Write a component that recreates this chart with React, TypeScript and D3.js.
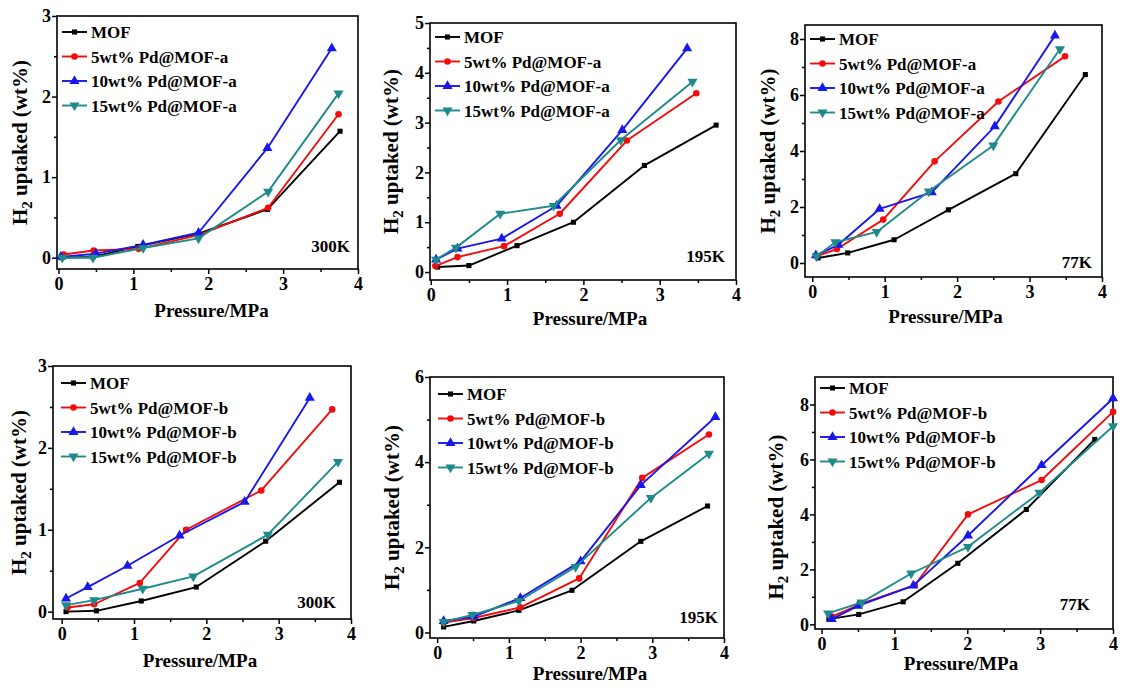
import React, { useEffect, useRef } from 'react';
import * as d3 from 'd3';

// legend names for the two sample batches
const namesA = ['MOF', '5wt% Pd@MOF-a', '10wt% Pd@MOF-a', '15wt% Pd@MOF-a'];
const namesB = ['MOF', '5wt% Pd@MOF-b', '10wt% Pd@MOF-b', '15wt% Pd@MOF-b'];

const colors = ['#000000', '#f20c0c', '#1717ee', '#1f8a8a'];
const symbols = ['square', 'circle', 'up', 'down'];

// [pressure MPa, H2 uptake wt%] for MOF, 5wt%, 10wt%, 15wt%
const batchA300K = [
  [[0.04, 0.0], [0.46, 0.01], [1.06, 0.14], [1.87, 0.3], [2.79, 0.6], [3.76, 1.57]],
  [[0.07, 0.04], [0.47, 0.09], [1.07, 0.11], [1.87, 0.28], [2.8, 0.62], [3.74, 1.78]],
  [[0.03, 0.01], [0.5, 0.05], [1.13, 0.16], [1.87, 0.31], [2.79, 1.36], [3.65, 2.6]],
  [[0.05, 0.0], [0.46, 0.0], [1.13, 0.12], [1.87, 0.24], [2.8, 0.82], [3.74, 2.04]],
];
const batchA195K = [
  [[0.09, 0.1], [0.5, 0.13], [1.13, 0.53], [1.87, 1.0], [2.8, 2.14], [3.74, 2.95]],
  [[0.06, 0.12], [0.35, 0.3], [0.96, 0.52], [1.69, 1.17], [2.57, 2.64], [3.48, 3.59]],
  [[0.07, 0.25], [0.35, 0.47], [0.93, 0.67], [1.65, 1.33], [2.51, 2.85], [3.36, 4.49]],
  [[0.07, 0.25], [0.33, 0.49], [0.91, 1.17], [1.61, 1.33], [2.49, 2.65], [3.43, 3.82]],
];
const batchA77K = [
  [[0.08, 0.18], [0.49, 0.36], [1.13, 0.83], [1.88, 1.9], [2.81, 3.19], [3.77, 6.73]],
  [[0.06, 0.24], [0.34, 0.5], [0.98, 1.55], [1.69, 3.63], [2.57, 5.77], [3.49, 7.38]],
  [[0.05, 0.27], [0.36, 0.65], [0.93, 1.93], [1.65, 2.52], [2.52, 4.88], [3.35, 8.12]],
  [[0.06, 0.24], [0.32, 0.74], [0.89, 1.11], [1.61, 2.56], [2.5, 4.2], [3.42, 7.64]],
];
const batchB300K = [
  [[0.06, 0.0], [0.48, 0.01], [1.1, 0.13], [1.86, 0.3], [2.82, 0.86], [3.84, 1.58]],
  [[0.08, 0.05], [0.45, 0.09], [1.08, 0.35], [1.72, 1.0], [2.76, 1.48], [3.74, 2.47]],
  [[0.06, 0.16], [0.36, 0.3], [0.91, 0.56], [1.63, 0.93], [2.53, 1.34], [3.43, 2.61]],
  [[0.06, 0.08], [0.45, 0.14], [1.12, 0.28], [1.82, 0.43], [2.85, 0.94], [3.82, 1.83]],
];
const batchB195K = [
  [[0.09, 0.13], [0.51, 0.27], [1.14, 0.52], [1.88, 0.99], [2.84, 2.14], [3.77, 2.97]],
  [[0.09, 0.23], [0.51, 0.34], [1.16, 0.59], [1.98, 1.27], [2.86, 3.63], [3.79, 4.65]],
  [[0.09, 0.27], [0.51, 0.37], [1.16, 0.81], [2.0, 1.67], [2.84, 3.46], [3.88, 5.06]],
  [[0.09, 0.25], [0.49, 0.41], [1.14, 0.74], [1.93, 1.54], [2.98, 3.16], [3.79, 4.2]],
];
const batchB77K = [
  [[0.1, 0.19], [0.51, 0.36], [1.12, 0.82], [1.87, 2.22], [2.81, 4.18], [3.75, 6.73]],
  [[0.14, 0.28], [0.53, 0.73], [1.28, 1.43], [2.01, 4.0], [3.02, 5.25], [4.0, 7.73]],
  [[0.14, 0.19], [0.5, 0.67], [1.26, 1.41], [2.01, 3.23], [3.02, 5.79], [4.0, 8.22]],
  [[0.09, 0.4], [0.55, 0.8], [1.23, 1.85], [2.01, 2.82], [2.99, 4.79], [4.0, 7.21]],
];

const xTicks = [0, 1, 2, 3, 4];

const panels = [
  { data: batchA300K, names: namesA, temp: '300K', frame: [57, 16, 358, 269], xDomain: [-0.02, 4], yDomain: [-0.14, 3], yStep: 1, legend: [0, 16], tempAt: [8, 17], xTitle: [4, 48], yTitle: [-30, 0] },
  { data: batchA195K, names: namesA, temp: '195K', frame: [430, 23, 736, 280], xDomain: [-0.01, 4], yDomain: [-0.16, 5], yStep: 1, legend: [0, 14], tempAt: [11, 18], xTitle: [7, 45], yTitle: [-32, 0] },
  { data: batchA77K, names: namesA, temp: '77K', frame: [805, 25, 1102, 277], xDomain: [-0.1, 4], yDomain: [-0.5, 8.5], yStep: 2, legend: [0, 14], tempAt: [10, 9], xTitle: [-8, 46], yTitle: [-30, 0] },
  { data: batchB300K, names: namesB, temp: '300K', frame: [53, 366, 351, 619], xDomain: [-0.12, 4], yDomain: [-0.09, 3], yStep: 1, legend: [3, 17], tempAt: [15, 11], xTitle: [-2, 48], yTitle: [-27, 0] },
  { data: batchB195K, names: namesB, temp: '195K', frame: [430, 377, 724, 638], xDomain: [-0.1, 4], yDomain: [-0.13, 6], yStep: 2, legend: [3, 17], tempAt: [6, 15], xTitle: [13, 42], yTitle: [-31, 0] },
  { data: batchB77K, names: namesB, temp: '77K', frame: [815, 377, 1113, 629], xDomain: [-0.09, 4], yDomain: [-0.17, 9], yStep: 2, legend: [0, 11], tempAt: [23, 19], xTitle: [-3, 41], yTitle: [-32, 14] },
];

const FONT = '"Liberation Serif", "Times New Roman", serif';

function markerPath(kind: string) {
  if (kind === 'square') return d3.symbol(d3.symbolSquare, 26)();
  if (kind === 'circle') return d3.symbol(d3.symbolCircle, 34)();
  return d3.symbol(d3.symbolTriangle, 44)();
}

function addMarker(g: any, kind: string, cx: number, cy: number, color: string) {
  g.append('path')
    .attr('d', markerPath(kind))
    .attr('fill', color)
    .attr('transform', `translate(${cx},${cy})${kind === 'down' ? ' rotate(180)' : ''}`);
}

const Panel = ({ cfg }: { cfg: any }) => {
  const ref = useRef<SVGGElement>(null);

  useEffect(() => {
    const g = d3.select(ref.current);
    g.selectAll('*').remove();
    const [left, top, right, bottom] = cfg.frame;

    const x = d3.scaleLinear().domain(cfg.xDomain).range([left, right]);
    const y = d3.scaleLinear().domain(cfg.yDomain).range([bottom, top]);

    const yMax = Math.floor(cfg.yDomain[1] / cfg.yStep) * cfg.yStep;
    const yMajor = d3.range(0, yMax + 0.001, cfg.yStep);
    const yMinor = d3.range(cfg.yStep / 2, cfg.yDomain[1], cfg.yStep);
    const xMinor = d3.range(0.5, 4, 1);

    // minor ticks first, then major with labels
    const minorX = g.append('g').attr('transform', `translate(0,${bottom})`)
      .call(d3.axisBottom(x).tickValues(xMinor).tickSize(3).tickSizeOuter(0).tickFormat(() => ''));
    const minorY = g.append('g').attr('transform', `translate(${left},0)`)
      .call(d3.axisLeft(y).tickValues(yMinor).tickSize(3).tickSizeOuter(0).tickFormat(() => ''));

    const axX = g.append('g').attr('transform', `translate(0,${bottom})`)
      .call(d3.axisBottom(x).tickValues(xTicks).tickSize(5).tickSizeOuter(0).tickPadding(3).tickFormat(d3.format('d')));
    const axY = g.append('g').attr('transform', `translate(${left},0)`)
      .call(d3.axisLeft(y).tickValues(yMajor).tickSize(5).tickSizeOuter(0).tickPadding(1).tickFormat(d3.format('d')));

    [minorX, minorY, axX, axY].forEach((a) => {
      a.select('.domain').remove();
      a.selectAll('line').attr('stroke', '#000').attr('stroke-width', 1.5);
      a.attr('font-family', FONT).attr('font-size', 18).attr('font-weight', 'bold');
      a.selectAll('text').attr('fill', '#000');
    });

    g.append('rect')
      .attr('x', left).attr('y', top)
      .attr('width', right - left).attr('height', bottom - top)
      .attr('fill', 'none').attr('stroke', '#000').attr('stroke-width', 1.6);

    const line = d3.line<number[]>().x((d) => x(d[0])).y((d) => y(d[1]));

    cfg.data.forEach((pts: number[][], i: number) => {
      g.append('path')
        .attr('d', line(pts))
        .attr('fill', 'none')
        .attr('stroke', colors[i])
        .attr('stroke-width', 1.9)
        .attr('stroke-linejoin', 'round');
      pts.forEach((p) => addMarker(g, symbols[i], x(p[0]), y(p[1]), colors[i]));
    });

    // legend
    const lx = left + 5 + cfg.legend[0];
    const ly = top + cfg.legend[1];
    cfg.names.forEach((name: string, i: number) => {
      const cy = ly + i * 24.5;
      g.append('line')
        .attr('x1', lx).attr('x2', lx + 25).attr('y1', cy).attr('y2', cy)
        .attr('stroke', colors[i]).attr('stroke-width', 1.9);
      addMarker(g, symbols[i], lx + 12.5, cy, colors[i]);
      g.append('text')
        .attr('x', lx + 29).attr('y', cy + 6)
        .attr('font-family', FONT).attr('font-size', 17).attr('font-weight', 'bold')
        .text(name);
    });

    g.append('text')
      .attr('x', right - cfg.tempAt[0]).attr('y', bottom - cfg.tempAt[1])
      .attr('text-anchor', 'end')
      .attr('font-family', FONT).attr('font-size', 17).attr('font-weight', 'bold')
      .text(cfg.temp);

    g.append('text')
      .attr('x', (left + right) / 2 + cfg.xTitle[0]).attr('y', bottom + cfg.xTitle[1])
      .attr('text-anchor', 'middle')
      .attr('font-family', FONT).attr('font-size', 19).attr('font-weight', 'bold')
      .text('Pressure/MPa');

    const yt = g.append('text')
      .attr('transform', `translate(${left + cfg.yTitle[0]},${(top + bottom) / 2 + cfg.yTitle[1]}) rotate(-90)`)
      .attr('text-anchor', 'middle')
      .attr('font-family', FONT).attr('font-size', 21).attr('font-weight', 'bold');
    yt.append('tspan').text('H');
    yt.append('tspan').attr('font-size', 15).attr('dy', 5).text('2');
    yt.append('tspan').attr('dy', -5).text(' uptaked (wt%)');
  }, [cfg]);

  return <g ref={ref} />;
};

export default function App() {
  return (
    <svg
      width={1125}
      height={690}
      style={{ position: 'absolute', left: 0, top: 0, background: '#fff' }}
    >
      {panels.map((p, i) => (
        <Panel key={i} cfg={p} />
      ))}
    </svg>
  );
}
